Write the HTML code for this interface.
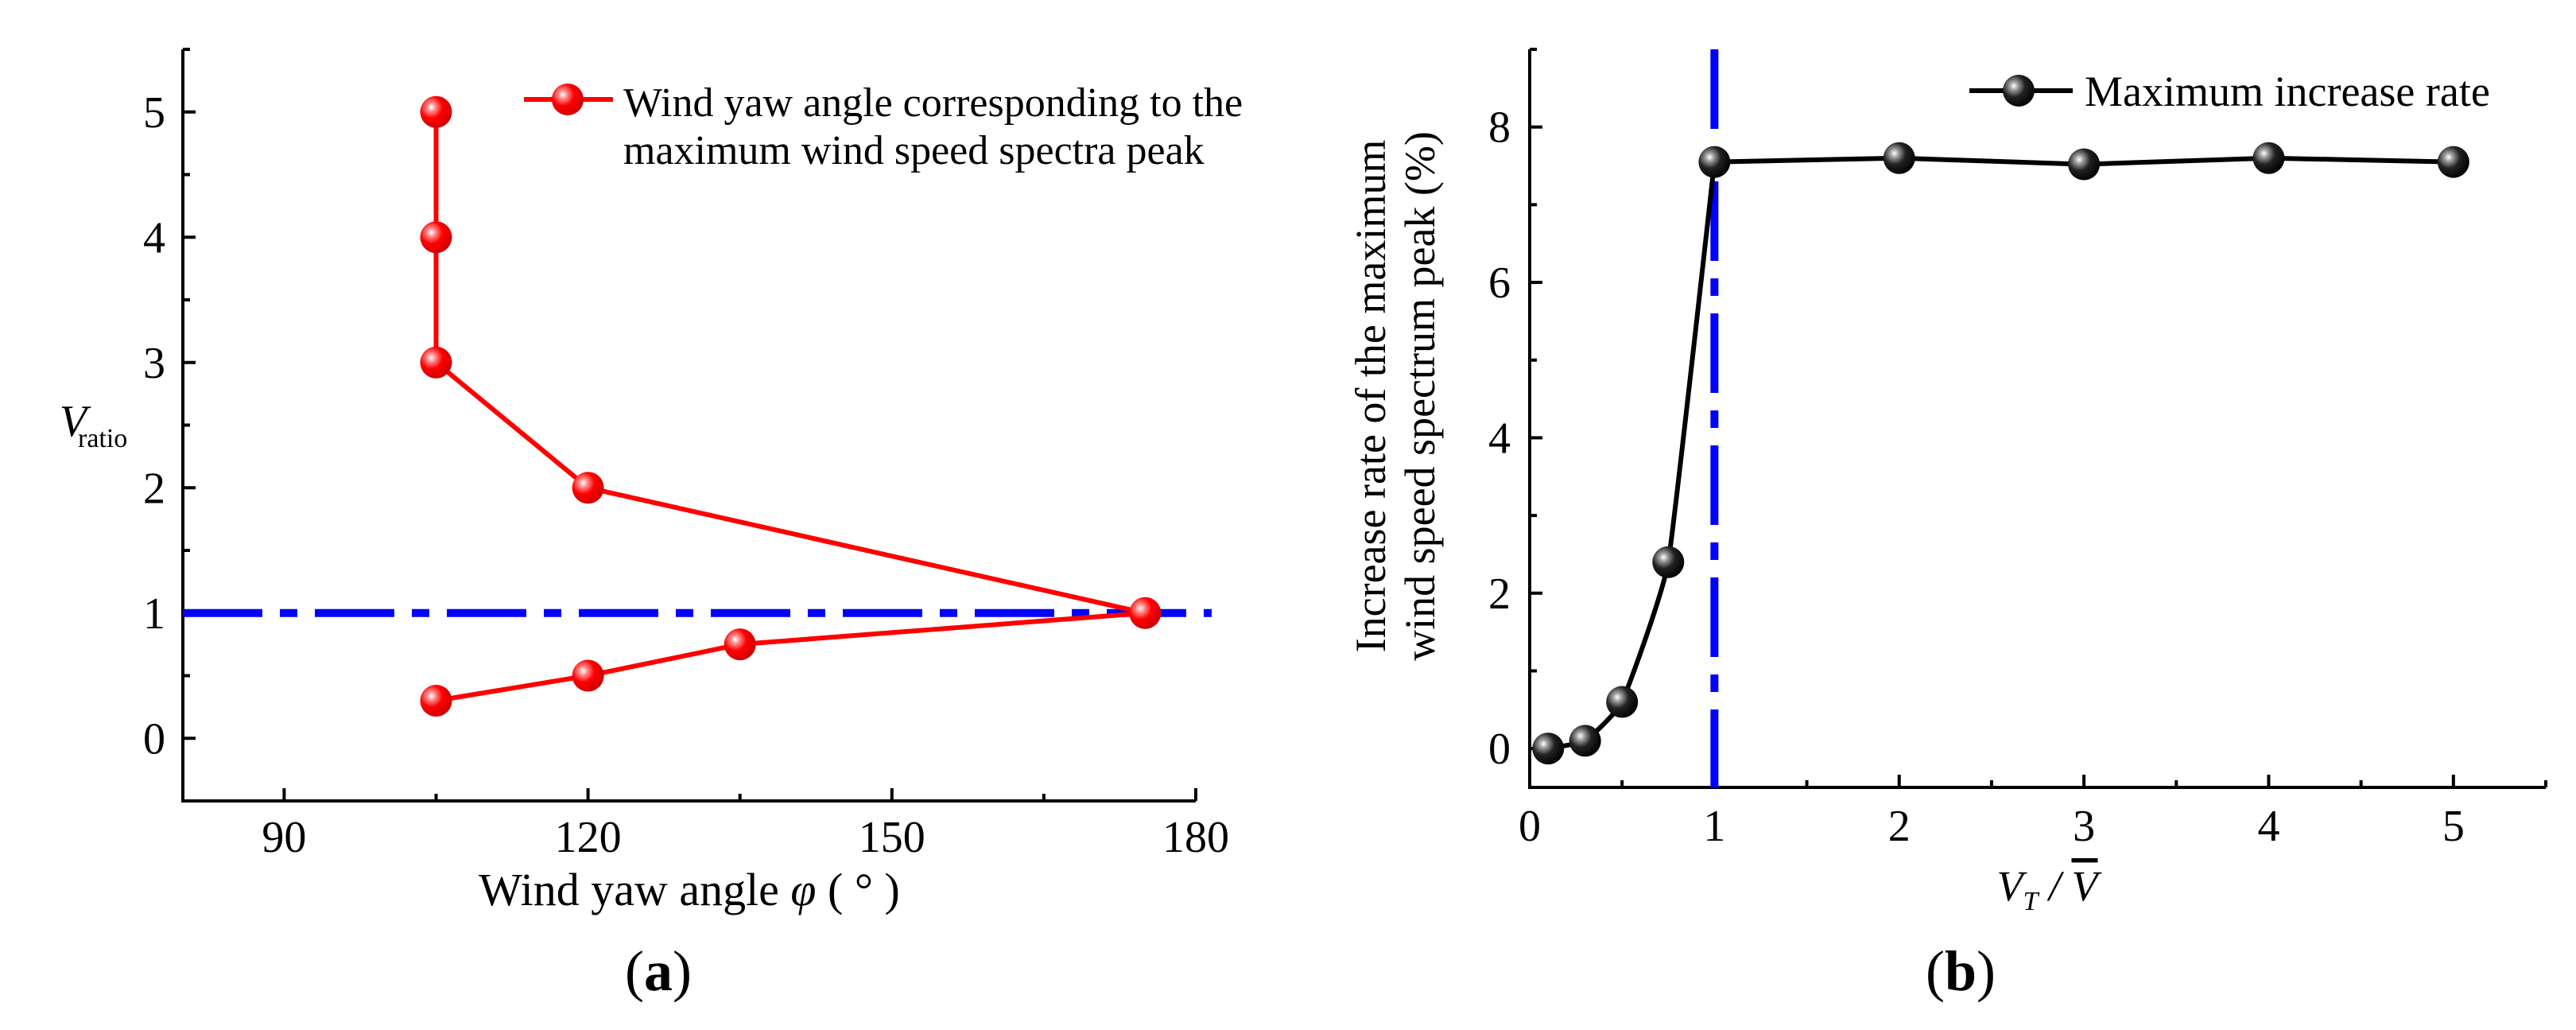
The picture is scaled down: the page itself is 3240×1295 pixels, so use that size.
<!DOCTYPE html>
<html><head><meta charset="utf-8"><style>
html,body{margin:0;padding:0;background:#fff}
svg{display:block}
text{font-family:"Liberation Serif",serif;fill:#000}
</style></head><body>
<svg id="chart" width="3240" height="1295" viewBox="0 0 3240 1295" xmlns="http://www.w3.org/2000/svg">
<defs>
<radialGradient id="gr" cx="0.35" cy="0.35" r="0.7"><stop offset="0" stop-color="#fff"/><stop offset="0.2" stop-color="#f88"/><stop offset="0.5" stop-color="#f00"/><stop offset="1" stop-color="#c00"/></radialGradient>
<radialGradient id="gk" cx="0.35" cy="0.35" r="0.7"><stop offset="0" stop-color="#fff"/><stop offset="0.2" stop-color="#999"/><stop offset="0.5" stop-color="#222"/><stop offset="1" stop-color="#000"/></radialGradient>
</defs>
<g id="pa"></g>
<g id="pb"></g>
</svg>
<script>
// Panel (a) data
const aAngles = [105, 105, 105, 120, 175, 135, 120, 105];
const aRatios = [5, 4, 3, 2, 1, 0.75, 0.5, 0.3];
const aXTicks = [90, 120, 150, 180];
const aYTicks = [0, 1, 2, 3, 4, 5];
const aRefLine = 1;
// Panel (b) data
const bX = [0.1, 0.3, 0.5, 0.75, 1, 2, 3, 4, 5];
const bY = [0, 0.1, 0.6, 2.4, 7.55, 7.6, 7.52, 7.6, 7.55];
const bXTicks = [0, 1, 2, 3, 4, 5];
const bYTicks = [0, 2, 4, 6, 8];
const bRefLine = 1;

const NS = "http://www.w3.org/2000/svg";
function mk(parent, tag, attrs, txt) {
  const e = document.createElementNS(NS, tag);
  for (const k in attrs) e.setAttribute(k, attrs[k]);
  if (txt !== undefined) e.textContent = txt;
  parent.appendChild(e);
  return e;
}

// ---------- Panel A ----------
const pa = document.getElementById('pa');
const aL = 230, aR = 1504, aT = 62, aB = 1007;
const ax = v => aL + (v - 80) / 100 * (aR - aL);
const ay = v => aB - (v + 0.5) / 6 * (aB - aT);
let e;
e = mk(pa, 'path', {d: `M${aL} ${aT}V${aB}H${aR}`, fill: 'none', stroke: '#000', 'stroke-width': 4});


aXTicks.forEach(v => {
  mk(pa, 'line', {x1: ax(v), x2: ax(v), y1: aB, y2: aB - 16, stroke: '#000', 'stroke-width': 4});
  if (v + 15 < 180) mk(pa, 'line', {x1: ax(v + 15), x2: ax(v + 15), y1: aB, y2: aB - 9, stroke: '#000', 'stroke-width': 4});
  e = mk(pa, 'text', {x: ax(v), y: 1071, 'font-size': 56, 'text-anchor': 'middle'}, v);
  
  
});
aYTicks.forEach(v => {
  mk(pa, 'line', {x1: aL, x2: aL + 16, y1: ay(v), y2: ay(v), stroke: '#000', 'stroke-width': 4});
  mk(pa, 'line', {x1: aL, x2: aL + 9, y1: ay(v + 0.5), y2: ay(v + 0.5), stroke: '#000', 'stroke-width': 4});
  e = mk(pa, 'text', {x: 208, y: ay(v) + 19, 'font-size': 56, 'text-anchor': 'end'}, v);
  
  
});
e = mk(pa, 'line', {x1: aL, x2: 1524, y1: ay(aRefLine), y2: ay(aRefLine), stroke: '#00f', 'stroke-width': 10, 'stroke-dasharray': '100 22 22 22'});


e = mk(pa, 'polyline', {points: aAngles.map((a, i) => ax(a) + ',' + ay(aRatios[i])).join(' '), fill: 'none', stroke: '#f00', 'stroke-width': 6});


aAngles.forEach((a, i) => {
  e = mk(pa, 'circle', {cx: ax(a), cy: ay(aRatios[i]), r: 20, fill: 'url(#gr)'});
  
  
});
e = mk(pa, 'text', {x: 92, y: 548, 'font-size': 56, 'font-style': 'italic', 'text-anchor': 'middle'}, 'V');


mk(pa, 'text', {x: 98, y: 562, 'font-size': 34}, 'ratio');
e = mk(pa, 'text', {x: 867, y: 1138, 'font-size': 58, 'text-anchor': 'middle'});


e.innerHTML = 'Wind yaw angle <tspan font-style="italic">φ</tspan> ( ° )';
e = mk(pa, 'text', {x: 828, y: 1245, 'font-size': 72, 'text-anchor': 'middle'});
e.innerHTML = '(<tspan font-weight="bold">a</tspan>)';


const lgA = mk(pa, 'g', {});


mk(lgA, 'line', {x1: 659, x2: 771, y1: 125, y2: 125, stroke: '#f00', 'stroke-width': 6});
mk(lgA, 'circle', {cx: 714, cy: 125, r: 20, fill: 'url(#gr)'});
mk(lgA, 'text', {x: 784, y: 146, 'font-size': 52}, 'Wind yaw angle corresponding to the');
mk(lgA, 'text', {x: 784, y: 206, 'font-size': 52}, 'maximum wind speed spectra peak');

// ---------- Panel B ----------
const pb = document.getElementById('pb');
const bL = 1924, bR = 3202, bT = 62, bB = 990;
const bx = v => bL + v / 5.5 * (bR - bL);
const by = v => bB - (v + 0.5) / 9.5 * (bB - bT);
e = mk(pb, 'path', {d: `M${bL} ${bT}V${bB}H${bR}`, fill: 'none', stroke: '#000', 'stroke-width': 4});


bXTicks.forEach(v => {
  mk(pb, 'line', {x1: bx(v), x2: bx(v), y1: bB, y2: bB - 16, stroke: '#000', 'stroke-width': 4});
  mk(pb, 'line', {x1: bx(v + 0.5), x2: bx(v + 0.5), y1: bB, y2: bB - 9, stroke: '#000', 'stroke-width': 4});
  e = mk(pb, 'text', {x: bx(v), y: 1057, 'font-size': 56, 'text-anchor': 'middle'}, v);
  
  
});
bYTicks.forEach(v => {
  mk(pb, 'line', {x1: bL, x2: bL + 16, y1: by(v), y2: by(v), stroke: '#000', 'stroke-width': 4});
  mk(pb, 'line', {x1: bL, x2: bL + 9, y1: by(v + 1), y2: by(v + 1), stroke: '#000', 'stroke-width': 4});
  e = mk(pb, 'text', {x: 1900, y: by(v) + 19, 'font-size': 56, 'text-anchor': 'end'}, v);
  
  
});
e = mk(pb, 'line', {x1: bx(bRefLine), x2: bx(bRefLine), y1: bT, y2: bB, stroke: '#00f', 'stroke-width': 10, 'stroke-dasharray': '100 22 22 22'});


const P = bX.map((v, i) => [bx(v), by(bY[i])]);
let d = `M${P[0][0]} ${P[0][1]}`;
for (let i = 0; i < P.length - 1; i++) {
  const p1 = P[i], p2 = P[i + 1];
  if (i >= 4) { d += ` L${p2[0]} ${p2[1]}`; continue; }
  const p0 = P[Math.max(0, i - 1)], p3 = (i + 2 <= 4) ? P[i + 2] : P[i + 1];
  const t = 0.06;
  d += ` C${p1[0] + (p2[0] - p0[0]) * t} ${p1[1] + (p2[1] - p0[1]) * t} ${p2[0] - (p3[0] - p1[0]) * t} ${p2[1] - (p3[1] - p1[1]) * t} ${p2[0]} ${p2[1]}`;
}
e = mk(pb, 'path', {d: d, fill: 'none', stroke: '#000', 'stroke-width': 6});


P.forEach(p => {
  e = mk(pb, 'circle', {cx: p[0], cy: p[1], r: 20, fill: 'url(#gk)'});
  
  
});
e = mk(pb, 'text', {transform: 'translate(1742 498) rotate(-90)', 'font-size': 54, 'text-anchor': 'middle'}, 'Increase rate of the maximum');


mk(pb, 'text', {transform: 'translate(1804 498) rotate(-90)', 'font-size': 54, 'text-anchor': 'middle'}, 'wind speed spectrum peak  (%)');
e = mk(pb, 'text', {x: 2575, y: 1132, 'font-size': 54, 'text-anchor': 'middle', 'font-style': 'italic'});
e.innerHTML = 'V<tspan font-size="34" dy="12">T</tspan><tspan dy="-12"> / </tspan><tspan text-decoration="overline">V</tspan>';


e = mk(pb, 'text', {x: 2466, y: 1245, 'font-size': 72, 'text-anchor': 'middle'});
e.innerHTML = '(<tspan font-weight="bold">b</tspan>)';


const lgB = mk(pb, 'g', {});


mk(lgB, 'line', {x1: 2477, x2: 2607, y1: 114, y2: 114, stroke: '#000', 'stroke-width': 6});
mk(lgB, 'circle', {cx: 2539, cy: 114, r: 20, fill: 'url(#gk)'});
mk(lgB, 'text', {x: 2622, y: 133, 'font-size': 54}, 'Maximum increase rate');
</script>
</body></html>
